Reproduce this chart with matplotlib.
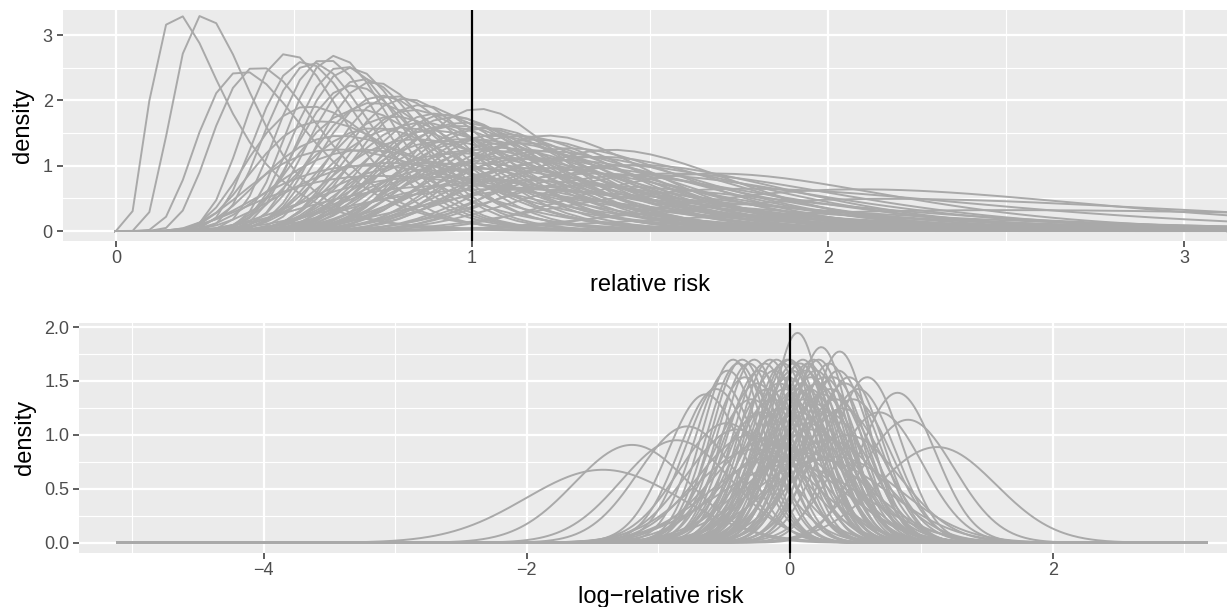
# Posterior densities of study relative risks: RR scale (top) and log-RR scale (bottom)
import numpy as np
import matplotlib.pyplot as plt
from matplotlib.ticker import MultipleLocator

# Per-study posterior mean and sd on the log-relative-risk scale (read from the peaks)
log_rr_mean = [
    -1.42, -1.20, -0.86, -0.78, -0.64, -0.56, -0.52, -0.47, -0.43, -0.39,
    -0.36, -0.34, -0.31, -0.29, -0.27, -0.25, -0.23, -0.21, -0.19, -0.17,
    -0.15, -0.13, -0.12, -0.10, -0.08, -0.07, -0.05, -0.04, -0.02, -0.01,
    0.00, 0.01, 0.02, 0.03, 0.05, 0.06, 0.07, 0.08, 0.09, 0.10,
    0.11, 0.12, 0.13, 0.14, 0.15, 0.16, 0.18, 0.19, 0.20, 0.21,
    0.22, 0.24, 0.25, 0.26, 0.28, 0.30, 0.31, 0.33, 0.35, 0.37,
    0.38, 0.40, 0.42, 0.45, 0.48, 0.52, 0.59, 0.68, 0.82, 0.90,
    1.12, -0.40, -0.30, -0.18, -0.06, 0.04, 0.17, 0.29, 0.44, -0.48,
    -0.10, 0.00, 0.12, 0.23, -0.26, 0.34,
]
log_rr_sd = [
    0.59, 0.44, 0.42, 0.37, 0.29, 0.28, 0.27, 0.25, 0.235, 0.24,
    0.235, 0.26, 0.24, 0.30, 0.235, 0.27, 0.25, 0.33, 0.24, 0.28,
    0.235, 0.30, 0.25, 0.235, 0.27, 0.32, 0.24, 0.28, 0.235, 0.26,
    0.235, 0.30, 0.25, 0.24, 0.28, 0.205, 0.33, 0.24, 0.27, 0.235,
    0.30, 0.25, 0.36, 0.24, 0.28, 0.26, 0.235, 0.31, 0.25, 0.27,
    0.235, 0.22, 0.29, 0.26, 0.33, 0.24, 0.28, 0.26, 0.30, 0.25,
    0.225, 0.32, 0.27, 0.26, 0.30, 0.28, 0.26, 0.33, 0.287, 0.35,
    0.45, 0.38, 0.40, 0.42, 0.45, 0.40, 0.38, 0.42, 0.40, 0.36,
    0.50, 0.55, 0.48, 0.52, 0.46, 0.50,
]

# evaluation grids (density estimates as they were computed)
log_grid = np.linspace(-5.11, 3.17, 512)
rr_grid = np.linspace(0.0, 24.0, 512)

LINE = "#A9A9A9"
PANEL = "#EBEBEB"
TICK_TXT = "#4D4D4D"

plt.rcParams['font.family'] = ['Liberation Sans', 'DejaVu Sans']


def normal_pdf(x, m, s):
    return np.exp(-0.5 * ((x - m) / s) ** 2) / (s * np.sqrt(2 * np.pi))


def lognormal_pdf(x, m, s):
    out = np.zeros_like(x)
    pos = x > 0
    out[pos] = normal_pdf(np.log(x[pos]), m, s) / x[pos]
    return out


def style_axes(ax):
    ax.set_facecolor(PANEL)
    for sp in ax.spines.values():
        sp.set_visible(False)
    ax.grid(which='major', color='white', linewidth=1.6, zorder=0)
    ax.grid(which='minor', color='white', linewidth=0.8, zorder=0)
    ax.set_axisbelow(True)
    ax.tick_params(which='major', length=4, width=1.1, color='#333333',
                   labelsize=13, labelcolor=TICK_TXT, pad=3)
    ax.tick_params(which='minor', length=0)


W, H = 1227, 607
fig = plt.figure(figsize=(W / 100, H / 100), dpi=100)

# top panel: relative risk scale
ax1 = fig.add_axes([62.5 / W, 1 - 240.7 / H, (W - 62.5) / W, 230.7 / H])
style_axes(ax1)
for m, s in zip(log_rr_mean, log_rr_sd):
    ax1.plot(rr_grid, lognormal_pdf(rr_grid, m, s), color=LINE, lw=1.4, zorder=2)
ax1.axvline(1, color='black', lw=1.6, zorder=3)
ax1.set_xlim(-0.15, 3.121)
ax1.set_ylim(-0.148, 3.383)
ax1.xaxis.set_major_locator(MultipleLocator(1))
ax1.xaxis.set_minor_locator(MultipleLocator(0.5))
ax1.yaxis.set_major_locator(MultipleLocator(1))
ax1.yaxis.set_minor_locator(MultipleLocator(0.5))
ax1.set_xlabel("relative risk", fontsize=17, labelpad=5)
ax1.set_ylabel("density", fontsize=17, labelpad=6)

# bottom panel: log-relative risk scale
ax2 = fig.add_axes([79 / W, 1 - 552.7 / H, (W - 79) / W, 230 / H])
style_axes(ax2)
for m, s in zip(log_rr_mean, log_rr_sd):
    ax2.plot(log_grid, normal_pdf(log_grid, m, s), color=LINE, lw=1.4, zorder=2)
ax2.axvline(0, color='black', lw=1.6, zorder=3)
ax2.set_xlim(-5.405, 3.326)
ax2.set_ylim(-0.093, 2.04)
ax2.xaxis.set_major_locator(MultipleLocator(2))
ax2.xaxis.set_minor_locator(MultipleLocator(1))
ax2.yaxis.set_major_locator(MultipleLocator(0.5))
ax2.yaxis.set_minor_locator(MultipleLocator(0.25))
ax2.yaxis.set_major_formatter(plt.FormatStrFormatter('%.1f'))
ax2.set_xlabel("log\u2212relative risk", fontsize=17, labelpad=5)
ax2.set_ylabel("density", fontsize=17, labelpad=6)

# centre x titles on the full (uncropped) panel width
ax1.xaxis.label.set_x((650 - 62.5) / (W - 62.5))
ax2.xaxis.label.set_x((661 - 79) / (W - 79))

fig.savefig("out.png", dpi=100)
